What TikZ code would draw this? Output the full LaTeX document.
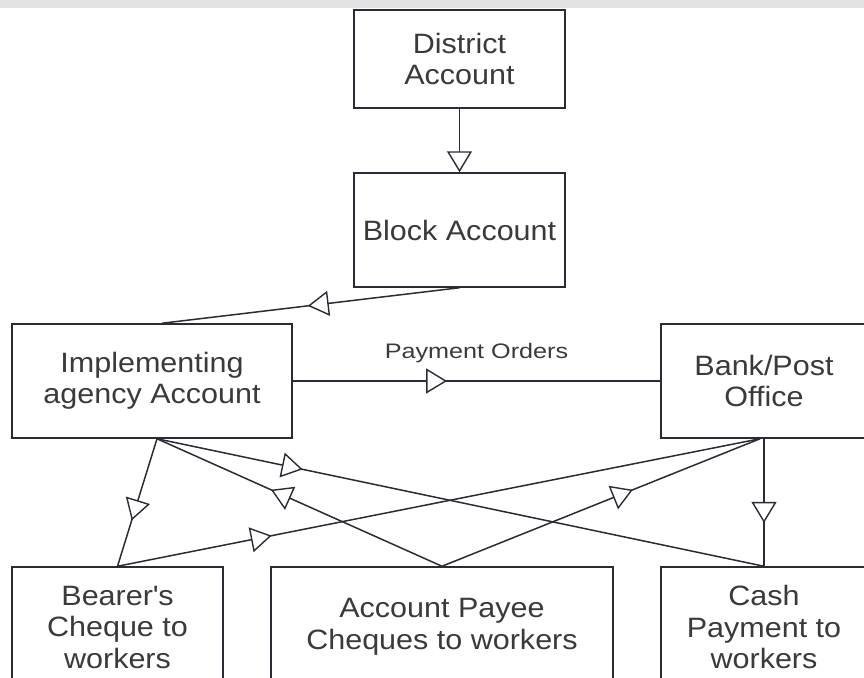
\documentclass[tikz,border=0pt]{standalone}
\usepackage{fontspec}
\setmainfont{Liberation Sans}[FakeStretch=1.09]
\newfontfamily\smallf{Liberation Sans}[FakeStretch=1.2]
\usetikzlibrary{arrows.meta,decorations.markings}
\definecolor{txt}{HTML}{3A3A3A}
\definecolor{ln}{HTML}{2B2B36}
\tikzset{
  Tri/.tip={Triangle[length=21pt,width=25pt,fill=white,line width=1.4pt]},
  box/.style={draw=ln, line width=1.5pt, fill=white, inner sep=0pt, align=center,
    text=txt, font=\fontsize{28}{31.5}\selectfont},
  conn/.style={color=ln, line width=1.5pt},
  midarr/.style={postaction={decorate}, decoration={markings, mark=at position #1 with {\arrow{Tri}}}},
  midrev/.style={postaction={decorate}, decoration={markings, mark=at position #1 with {\arrowreversed{Tri}}}},
  lbl/.style={text=txt, inner sep=0pt, font=\smallf\fontsize{21}{24}\selectfont},
}
\begin{document}
\begin{tikzpicture}[x=1pt,y=-1pt]
\useasboundingbox (0,0) rectangle (864,677);
\fill[gray!22] (0,0) rectangle (864,8);
% boxes
\node[box, minimum width=211pt, minimum height=98pt] (district) at (459.5,59) {District\\Account};
\node[box, minimum width=211pt, minimum height=114pt] (block) at (459.5,230) {Block Account};
\node[box, minimum width=280pt, minimum height=114pt] (impl) at (152,381) {Implementing\\agency Account};
\node[box, minimum width=206pt, minimum height=114pt] (bank) at (764,381) {Bank/Post\\Office};
\node[box, minimum width=211pt, minimum height=120pt] (bearer) at (117.5,627) {Bearer\textquotesingle s\\Cheque to\\workers};
\node[box, minimum width=342pt, minimum height=120pt] (payee) at (442,627) {Account Payee\\Cheques to workers};
\node[box, minimum width=206pt, minimum height=120pt] (cash) at (764,627) {Cash\\Payment to\\workers};
% connectors
\draw[conn,-{Tri}] (district) -- (block);
\draw[conn,midarr=0.51] (block.south) -- ([xshift=10pt]impl.north);
\draw[conn,midarr=0.42] (impl) -- node[lbl, midway, above=17pt] {Payment Orders} (bank);
\draw[conn,midarr=0.64] ([xshift=5pt]impl.south) -- (bearer.north);
\draw[conn,midrev=0.40] ([xshift=5pt]impl.south) -- (payee.north);
\draw[conn,midarr=0.24] ([xshift=5pt]impl.south) -- (cash.north);
\draw[conn,midarr=0.24] (bearer.north) -- ([xshift=-4pt]bank.south);
\draw[conn,midarr=0.60] (payee.north) -- ([xshift=-4pt]bank.south);
\draw[conn,midarr=0.66] (bank.south) -- (cash.north);
\end{tikzpicture}
\end{document}
